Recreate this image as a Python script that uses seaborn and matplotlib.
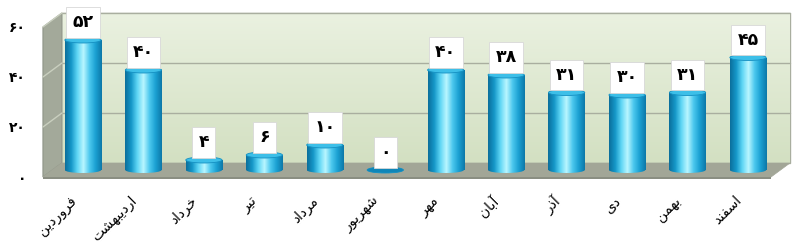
import numpy as np
import pandas as pd
import matplotlib
matplotlib.use("Agg")
import matplotlib.pyplot as plt
import seaborn as sns
from matplotlib.patches import Polygon, Ellipse, Rectangle
from matplotlib.colors import LinearSegmentedColormap
from matplotlib.transforms import ScaledTranslation

# ---------------- data ----------------
months = ["فروردین", "اردیبهشت", "خرداد", "تیر", "مرداد", "شهریور",
          "مهر", "آبان", "آذر", "دی", "بهمن", "اسفند"]
values = [52, 40, 4, 6, 10, 0, 40, 38, 31, 30, 31, 45]
yticks = [0, 20, 40, 60]

# ---------------- Persian shaping helpers ----------------
FA_DIGITS = str.maketrans("0123456789", "۰۱۲۳۴۵۶۷۸۹")

def fa_num(n):
    return str(n).translate(FA_DIGITS)

# isolated, final, initial, medial
DUAL = {
    "ب": "\uFE8F\uFE90\uFE91\uFE92",
    "ت": "\uFE95\uFE96\uFE97\uFE98",
    "خ": "\uFEA5\uFEA6\uFEA7\uFEA8",
    "س": "\uFEB1\uFEB2\uFEB3\uFEB4",
    "ش": "\uFEB5\uFEB6\uFEB7\uFEB8",
    "ف": "\uFED1\uFED2\uFED3\uFED4",
    "م": "\uFEE1\uFEE2\uFEE3\uFEE4",
    "ن": "\uFEE5\uFEE6\uFEE7\uFEE8",
    "ه": "\uFEE9\uFEEA\uFEEB\uFEEC",
    "ی": "\uFBFC\uFBFD\uFBFE\uFBFF",
}
RIGHT = {
    "ا": "\uFE8D\uFE8E",
    "آ": "\uFE81\uFE82",
    "د": "\uFEA9\uFEAA",
    "ذ": "\uFEAB\uFEAC",
    "ر": "\uFEAD\uFEAE",
    "ز": "\uFEAF\uFEB0",
    "و": "\uFEED\uFEEE",
}

def shape(word):
    out = []
    n = len(word)
    for i, ch in enumerate(word):
        prev_joins = i > 0 and word[i - 1] in DUAL and (ch in DUAL or ch in RIGHT)
        if ch in DUAL:
            next_joins = i < n - 1 and (word[i + 1] in DUAL or word[i + 1] in RIGHT)
            forms = DUAL[ch]
            if prev_joins and next_joins:
                out.append(forms[3])
            elif prev_joins:
                out.append(forms[1])
            elif next_joins:
                out.append(forms[2])
            else:
                out.append(forms[0])
        elif ch in RIGHT:
            out.append(RIGHT[ch][1] if prev_joins else RIGHT[ch][0])
        else:
            out.append(ch)
    return "".join(reversed(out))

# ---------------- figure ----------------
sns.set_theme(style="white")
plt.rcParams["font.family"] = ["DejaVu Sans"]

fig = plt.figure(figsize=(8, 2.48), dpi=100)
ax = fig.add_axes([40 / 800, 1 - 181.25 / 248, 752 / 800, 173.25 / 248])

df = pd.DataFrame({"month": months, "value": values})
sns.barplot(data=df, x="month", y="value", order=months, width=0.6,
            color="#1aa3d6", ax=ax, zorder=3)
bars = [pp for pp in ax.patches if isinstance(pp, Rectangle)][:len(values)]

ax.set_xlim(-0.711, 11.728)
ax.set_ylim(-4.5, 64.8)
for s in ax.spines.values():
    s.set_visible(False)
ax.set_xlabel("")
ax.set_ylabel("")
ax.set_facecolor("white")

# ---------------- pseudo-3D frame ----------------
DX, DY = 0.157, 2.8
xL, xR = -0.505, 11.538
top = yticks[-1]

back = Polygon([(xL + DX, DY), (xR + DX, DY), (xR + DX, top + DY), (xL + DX, top + DY)],
               closed=True, facecolor="#dfe9d1", edgecolor="#a9ae9f", lw=1.0, zorder=0)
ax.add_patch(back)
grad_bg = np.linspace(0, 1, 100).reshape(-1, 1)
bg_cmap = LinearSegmentedColormap.from_list("bg", ["#d3e0c2", "#eaf1e0"])
im = ax.imshow(grad_bg, extent=(xL + DX, xR + DX, DY, top + DY), origin="lower",
               cmap=bg_cmap, aspect="auto", zorder=0.5)
im.set_clip_path(back)

left = Polygon([(xL - DX, -DY), (xL + DX, DY), (xL + DX, top + DY), (xL - DX, top - DY)],
               closed=True, facecolor="#a3a99a", edgecolor="#8f9588", lw=0.8, zorder=1)
ax.add_patch(left)
floor = Polygon([(xL - DX, -DY), (xR - DX, -DY), (xR + DX, DY), (xL + DX, DY)],
                closed=True, facecolor="#a2a697", edgecolor="#a2a697", lw=0.5, zorder=1)
ax.add_patch(floor)
edge = Polygon([(xL - DX, -DY), (xR - DX, -DY), (xR - DX, -DY - 0.9), (xL - DX, -DY - 0.9)],
               closed=True, facecolor="#8a8e82", edgecolor="none", zorder=1)
ax.add_patch(edge)

for v in yticks[1:]:
    ax.plot([xL + DX, xR + DX], [v + DY, v + DY], color="#a9ae9f", lw=1.0, zorder=1)
    ax.plot([xL - DX, xL + DX], [v - DY, v + DY], color="#c9cfbf", lw=1.0, zorder=1.5)

# ---------------- cylinder look for bars ----------------
cyl = LinearSegmentedColormap.from_list(
    "cyl", ["#0b6f9c", "#1597c8", "#5fd6f5", "#b9f6ff", "#4cc8ee", "#1aa0d2", "#0d78a8"])
grad = np.linspace(0, 1, 200).reshape(1, -1)
ell_h = 2.4
for p, v in zip(bars, values):
    x0, w, h = p.get_x(), p.get_width(), p.get_height()
    cx = x0 + w / 2
    p.set_facecolor("none")
    p.set_edgecolor("none")
    body = Rectangle((x0, 0), w, h, facecolor="none", edgecolor="none", zorder=3)
    ax.add_patch(body)
    bottom = Ellipse((cx, 0), w, ell_h, facecolor="none", edgecolor="none", zorder=3)
    ax.add_patch(bottom)
    for clip in (body, bottom):
        if h <= 0 and clip is body:
            continue
        gi = ax.imshow(grad, extent=(x0, x0 + w, -ell_h, max(h, 0) + ell_h), cmap=cyl,
                       aspect="auto", zorder=3, origin="lower")
        gi.set_clip_path(clip)
    topc = "#0f86b8" if h <= 0 else "#3dbfe8"
    ax.add_patch(Ellipse((cx, h), w, ell_h, facecolor=topc, edgecolor="#1590c2",
                         lw=0.6, zorder=4))
    ax.annotate(fa_num(v), xy=(cx, h + ell_h / 2), xytext=(0, 4), textcoords="offset points",
                ha="center", va="bottom", fontsize=12.5, fontweight="bold", color="black",
                zorder=6,
                bbox=dict(boxstyle="square,pad=0.36", facecolor="white", edgecolor="#d8d8d8",
                          lw=0.6))

# ---------------- ticks ----------------
ax.set_xticks(range(len(months)))
ax.set_xticklabels([shape(m) for m in months], rotation=45, ha="right", va="top",
                   rotation_mode="anchor", fontsize=10, color="black")
ax.set_yticks(yticks)
ax.set_yticklabels([fa_num(t) for t in yticks], fontsize=10, fontweight="bold", color="black")
ax.tick_params(axis="both", length=0)
ax.tick_params(axis="y", pad=10)
ax.tick_params(axis="x", pad=6)

off_front_y = ScaledTranslation(0, -7 / 100, fig.dpi_scale_trans)
for lab in ax.get_yticklabels():
    lab.set_transform(lab.get_transform() + off_front_y)
off_front_x = ScaledTranslation(-14 / 100, -4 / 100, fig.dpi_scale_trans)
for lab in ax.get_xticklabels():
    lab.set_transform(lab.get_transform() + off_front_x)

fig.savefig("out.png", dpi=100)
